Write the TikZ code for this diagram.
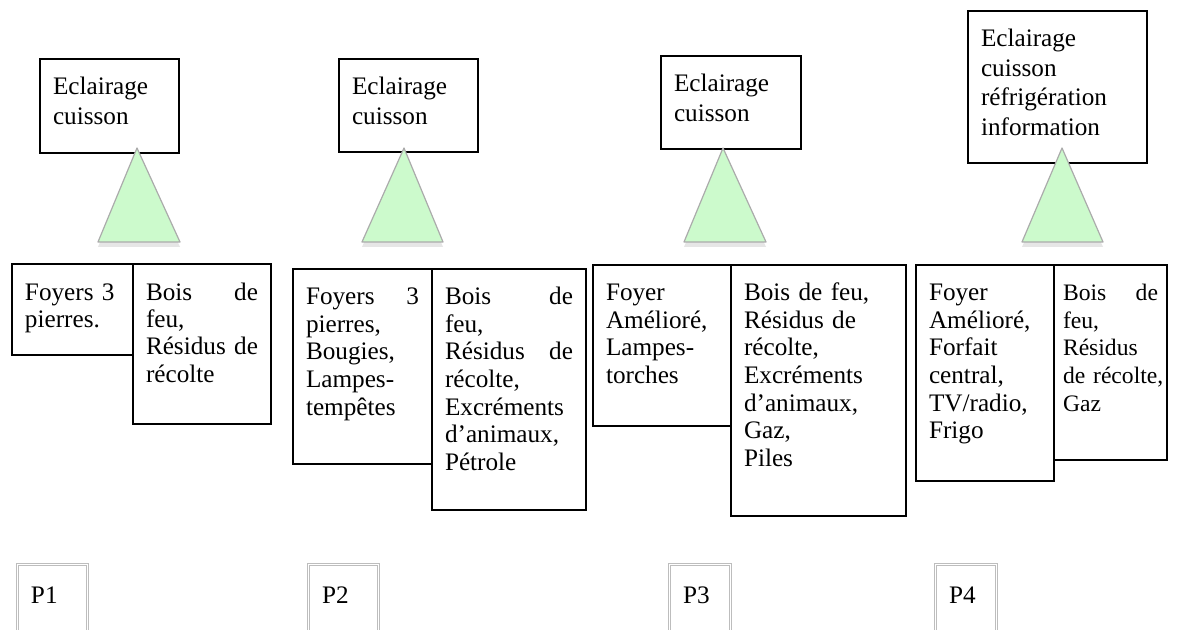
\documentclass[tikz,border=0pt]{standalone}
\usepackage{fontspec}
\setmainfont{Liberation Serif}
\usetikzlibrary{shadows}
\definecolor{triFill}{HTML}{CCFACC}
\definecolor{triLine}{HTML}{ABABAB}
\definecolor{pLine}{HTML}{BDBDBD}
\tikzset{
	cell/.style 2 args={draw, line width=1pt, outer sep=0, anchor=north west,
		inner xsep=6.5pt, inner ysep=0pt, text width=#1, text height=18pt,
		text depth=#2, align=left, font=\fontsize{12.6}{13.75}\selectfont},
	need/.style 2 args={cell={#1}{#2}, font=\fontsize{12.6}{14.75}\selectfont},
	pbox/.style={draw=pLine, double=white, double distance=0.5pt, line width=0.5pt,
		outer sep=0, anchor=north west, inner xsep=7pt, inner ysep=0pt,
		text width=#1, text height=19.5pt, text depth=30pt, align=left,
		font=\fontsize{12.6}{13.75}\selectfont},
	tri/.style={draw=triLine, fill=triFill, line width=0.6pt, line join=round,
		drop shadow={shadow xshift=0pt, shadow yshift=-2.5pt, opacity=0.2}}
}

\begin{document}
\begin{tikzpicture}[x=0.5pt, y=-0.5pt]
	\path[use as bounding box, clip] (0,0) rectangle (1187,630);
	
	% besoins
	\node[need={56.5pt}{29pt}] (e1) at (40,59) {Eclairage\\cuisson};
	\node[need={56.5pt}{28.5pt}] (e2) at (339,59) {Eclairage\\cuisson};
	\node[need={57pt}{28.5pt}] (e3) at (661,56) {Eclairage\\cuisson};
	\node[need={76.5pt}{58pt}] (e4) at (968,11) {Eclairage\\cuisson\\réfrigération\\information};
	
	\draw[tri] (137,148) -- (180,242) -- (98,242) -- cycle;
	\draw[tri] (404,148) -- (443,242) -- (362,242) -- cycle;
	\draw[tri] (723,148) -- (766,242) -- (684,242) -- cycle;
	\draw[tri] (1062,148) -- (1103,242) -- (1022,242) -- cycle;
	
	% equipements / sources
	\node[cell={47.5pt}{27.5pt}] (a1) at (12,264) {Foyers 3\\pierres.};
	\node[cell={56pt}{62pt}] (b1) at (133,264) {Bois \hfill de\\feu,\\\mbox{Résidus de}\\récolte};
	
	\node[cell={56.5pt}{79.5pt}] (a2) at (293,269) {Foyers \hfill 3\\pierres,\\Bougies,\\Lampes-\\tempêtes};
	\node[cell={64pt}{102.5pt}] (b2) at (432,269) {Bois \hfill de\\feu,\\Résidus \hfill de\\récolte,\\Excréments\\d’animaux,\\Pétrole};
	
	\node[cell={56pt}{62.5pt}] (a3) at (593,265) {Foyer\\Amélioré,\\Lampes-\\torches};
	\node[cell={74.5pt}{107.5pt}] (b3) at (731,265) {Bois de feu,\\Résidus de\\récolte,\\Excréments\\d’animaux,\\Gaz,\\Piles};
	
	\node[cell={56pt}{90pt}] (a4) at (916,265) {Foyer\\Amélioré,\\Forfait\\central,\\TV/radio,\\Frigo};
	\node[cell={47.5pt}{79.5pt}, inner xsep=4.5pt, font=\fontsize{11.8}{13.75}\selectfont] (b4) at (1054,265) {Bois \hfill de\\feu,\\Résidus\\\mbox{de récolte,}\\Gaz};
	
	% periodes
	\node[pbox=21pt] (p1) at (17,564) {P1};
	\node[pbox=21pt] (p2) at (308,564) {P2};
	\node[pbox=16.5pt] (p3) at (669,564) {P3};
	\node[pbox=16.5pt] (p4) at (935,564) {P4};
\end{tikzpicture}
\end{document}
